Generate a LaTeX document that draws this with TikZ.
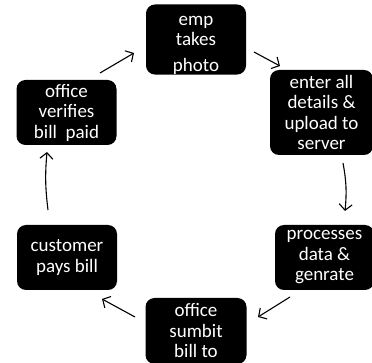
\documentclass[tikz,border=0pt]{standalone}
\usepackage{fontspec}
\setmainfont{Carlito}
\usetikzlibrary{arrows.meta}
\begin{document}
\begin{tikzpicture}[x=1pt,y=1pt,
  stepbox/.style={fill=black, rounded corners=9pt, text=white, align=center,
    inner sep=0pt, font=\fontsize{19}{20.5}\selectfont},
  flow/.style={line width=1.1pt, -{Straight Barb[length=6pt,width=13pt,line width=1.1pt]}}]
\useasboundingbox (0,0) rectangle (372,-363);
\node[stepbox, minimum width=100pt, minimum height=65pt] (A) at (196,-39.5) {\rule{0pt}{21pt}emp\\takes\\[5pt]photo};
\node[stepbox, minimum width=103pt, minimum height=85pt] (B) at (321.5,-112.5) {enter all\\details \&\\upload to\\server};
\node[stepbox, minimum width=100pt, minimum height=65pt] (C) at (66.5,-112.5) {office\\verifies\\bill\ \ paid};
\node[stepbox, minimum width=100pt, minimum height=65pt] (D) at (67,-257.5) {customer\\pays bill};
\node[stepbox, minimum width=99pt, minimum height=65pt] (E) at (324.5,-257.5) {processes\\data \&\\genrate};
\node[stepbox, minimum width=101pt, minimum height=66pt] (F) at (196,-331) {office\\sumbit\\bill to};
\coordinate (c1) at (100,-73); \coordinate (a1) at (134,-53);
\coordinate (a2) at (254,-52); \coordinate (b1) at (280,-66);
\coordinate (b2) at (343,-163); \coordinate (e1) at (345,-211);
\coordinate (e2) at (290,-297); \coordinate (f1) at (258,-317);
\coordinate (f2) at (135,-317); \coordinate (d1) at (102,-299);
\coordinate (d2) at (48,-210); \coordinate (c2) at (47,-152);
\draw[flow] (c1) -- (a1);
\draw[flow] (a2) -- (b1);
\draw[flow] (b2) to[bend left=8] (e1);
\draw[flow] (e2) -- (f1);
\draw[flow] (f2) -- (d1);
\draw[flow] (d2) to[bend left=6] (c2);
\end{tikzpicture}
\end{document}
